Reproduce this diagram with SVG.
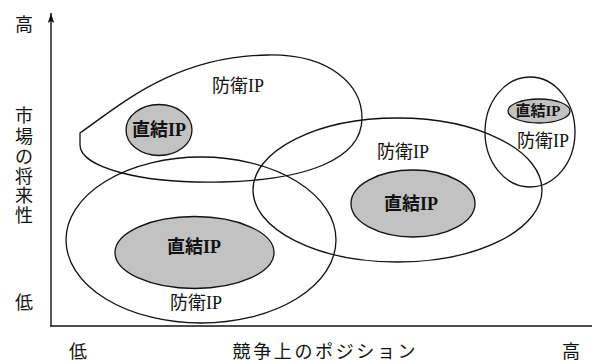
<svg xmlns="http://www.w3.org/2000/svg" width="592" height="363" viewBox="0 0 592 363">
<style>
text{font-family:"Liberation Serif","Noto Sans CJK JP",serif;font-size:18px;fill:#111;text-anchor:middle}
.ln{fill:none;stroke:#111;stroke-width:1.3}
.core{fill:#c2c2c2;stroke:#111;stroke-width:1.3}
.core-t{font-weight:bold}
.ax{font-family:"Noto Sans CJK JP",sans-serif;font-size:18px}
</style>
<defs>
<marker id="arr" markerWidth="12" markerHeight="8" refX="10" refY="4" orient="auto" markerUnits="userSpaceOnUse">
<path d="M10,4 L0,0.8 L2,4 L0,7.2 Z" fill="#111"/>
</marker>
</defs>
<rect width="592" height="363" fill="#fff"/>
<g id="axes">
<line x1="51" y1="326" x2="51" y2="13" stroke="#111" stroke-width="1.4" marker-end="url(#arr)"/>
<line x1="50" y1="326" x2="592" y2="326" stroke="#111" stroke-width="1.6"/>
</g>
<g id="axis-labels" class="ax">
<text x="24" y="31">高</text>
<text x="24" y="122">市</text>
<text x="24" y="143">場</text>
<text x="24" y="163">の</text>
<text x="24" y="183">将</text>
<text x="24" y="202">来</text>
<text x="24" y="222">性</text>
<text x="24" y="309">低</text>
<text x="78" y="358">低</text>
<text x="324" y="358" textLength="183" lengthAdjust="spacing">競争上のポジション</text>
<text x="571" y="358">高</text>
</g>
<g id="connectors"></g>
<g id="top-region">
<path class="ln" d="M80,133 C120,105 175,56 268,55 C330,54 362,85 362,118 C362,160 305,180 222,182 C140,184 80,167 80,145 Z"/>
<text x="238" y="92">防衛IP</text>
</g>
<g id="top-core">
<ellipse class="core" cx="159" cy="130" rx="33" ry="25.5"/>
<text class="core-t" x="159" y="136">直結IP</text>
</g>
<g id="bottom-region">
<ellipse class="ln" cx="201" cy="240" rx="135" ry="83"/>
<text x="196" y="309">防衛IP</text>
</g>
<g id="bottom-core">
<ellipse class="core" cx="194.5" cy="252.5" rx="79.5" ry="36"/>
<text class="core-t" x="194" y="253">直結IP</text>
</g>
<g id="middle-region">
<ellipse class="ln" cx="397.5" cy="190" rx="144.5" ry="72"/>
<text x="403" y="158">防衛IP</text>
</g>
<g id="middle-core">
<ellipse class="core" cx="413" cy="203.5" rx="62" ry="33.5"/>
<text class="core-t" x="411" y="210">直結IP</text>
</g>
<g id="right-region">
<ellipse class="ln" cx="530" cy="132" rx="45" ry="55"/>
<text x="543" y="147">防衛IP</text>
</g>
<g id="right-core">
<ellipse class="core" cx="539" cy="111" rx="31" ry="12"/>
<text class="core-t" x="538" y="116" style="font-size:15px">直結IP</text>
</g>
</svg>
